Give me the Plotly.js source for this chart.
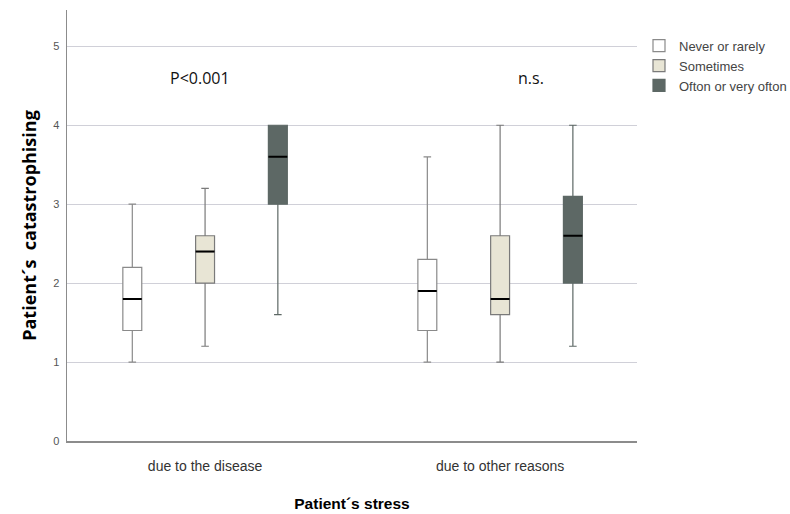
<!DOCTYPE html>
<html>
<head>
<meta charset="utf-8">
<script src="https://cdn.plot.ly/plotly-3.0.1.min.js"></script>
<style>html,body{margin:0;padding:0;background:#fff;}#chart{width:790px;height:514px;}</style>
</head>
<body>
<div id="chart"></div>
<script>
// Data
const categories = ["due to the disease", "due to other reasons"];
const seriesNames = ["Never or rarely", "Sometimes", "Ofton or very ofton"];
const lowerWhisker = [[1.0, 1.0], [1.2, 1.0], [1.6, 1.2]];
const q1Values     = [[1.4, 1.4], [2.0, 1.6], [3.0, 2.0]];
const medianValues = [[1.8, 1.9], [2.4, 1.8], [3.6, 2.6]];
const q3Values     = [[2.2, 2.3], [2.6, 2.6], [4.0, 3.1]];
const upperWhisker = [[3.0, 3.6], [3.2, 4.0], [4.0, 4.0]];
const yTicks = [0, 1, 2, 3, 4, 5];
const annotationTexts = ["P<0.001", "n.s."];

const fills = ["#ffffff", "#e8e5d5", "#5d6865"];
const outlines = ["#8a8a8a", "#7a7a7a", "#5d6865"];

const traces = [];
seriesNames.forEach((name, i) => {
  traces.push({
    type: "box",
    name: name,
    x: categories,
    q1: q1Values[i],
    median: medianValues[i],
    q3: q3Values[i],
    lowerfence: lowerWhisker[i],
    upperfence: upperWhisker[i],
    offsetgroup: "g" + i,
    fillcolor: fills[i],
    line: {color: outlines[i], width: 1.2},
    whiskerwidth: 0.4,
    boxpoints: false,
    hoverinfo: "skip"
  });
});
// median overlays in black
seriesNames.forEach((name, i) => {
  traces.push({
    type: "box",
    name: name + " median",
    x: categories,
    q1: medianValues[i],
    median: medianValues[i],
    q3: medianValues[i],
    lowerfence: medianValues[i],
    upperfence: medianValues[i],
    offsetgroup: "g" + i,
    fillcolor: "rgba(0,0,0,0)",
    line: {color: "#000000", width: 2},
    whiskerwidth: 0,
    boxpoints: false,
    showlegend: false,
    hoverinfo: "skip"
  });
});

const layout = {
  width: 790, height: 514,
  margin: {l: 67, r: 153, t: 10, b: 73, autoexpand: false},
  paper_bgcolor: "#fff", plot_bgcolor: "#fff",
  font: {family: "Liberation Sans, Arial, sans-serif", color: "#333"},
  boxmode: "group",
  boxgap: 0.26,
  boxgroupgap: 0.74,
  showlegend: true,
  legend: {
    x: 1.0035, y: 0.952, xanchor: "left", yanchor: "top",
    font: {size: 13, color: "#444"},
    tracegroupgap: 0,
    bgcolor: "rgba(0,0,0,0)"
  },
  xaxis: {
    type: "category",
    range: [-0.468, 1.464],
    showline: true, linecolor: "#8c8c8c", linewidth: 1.5,
    showgrid: false, zeroline: false, ticks: "",
    tickfont: {size: 14, color: "#333"},
    ticklabelstandoff: 12,
    title: {text: "<b>Patient´s stress</b>", font: {size: 15.5, color: "#000"}, standoff: 25}
  },
  yaxis: {
    range: [0, 5.46],
    tickvals: yTicks,
    showline: true, linecolor: "#8c8c8c", linewidth: 1.5,
    showgrid: true, gridcolor: "#d0d0d8", gridwidth: 1,
    zeroline: false, ticks: "",
    tickfont: {size: 11, color: "#555"},
    ticklabelstandoff: 4,
    title: {text: "<b>Patient´s  catastrophising</b>", font: {family: "Open Sans, sans-serif", size: 18, color: "#000"}, standoff: 12}
  },
  annotations: [
    {x: categories[0], y: 4.6, xref: "x", yref: "y", xshift: -5, text: annotationTexts[0], showarrow: false, font: {family: "Open Sans, sans-serif", size: 16, color: "#111"}},
    {x: categories[1], y: 4.6, xref: "x", yref: "y", xshift: 31, text: annotationTexts[1], showarrow: false, font: {family: "Open Sans, sans-serif", size: 16, color: "#111"}}
  ]
};

Plotly.newPlot("chart", traces, layout, {displayModeBar: false, staticPlot: true});
</script>
</body>
</html>
